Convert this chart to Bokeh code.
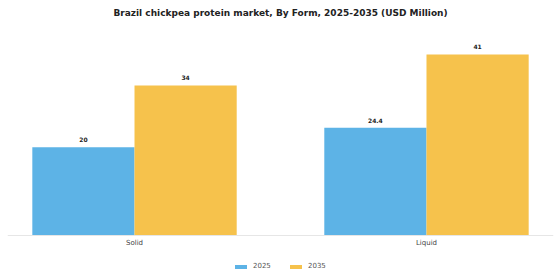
from bokeh.plotting import figure
from bokeh.models import ColumnDataSource, Range1d, Legend, LegendItem, FixedTicker
from bokeh.embed import file_html
from bokeh.resources import INLINE
from bokeh.core.properties import value

categories = ["Solid", "Liquid"]
years = ["2025", "2035"]
values_2025 = [20, 24.4]
values_2035 = [34, 41]
labels_2025 = ["20", "24.4"]
labels_2035 = ["34", "41"]

BLUE = "#5DB3E6"
YELLOW = "#F6C24C"
BAR_W = 0.35

centers = [i + 0.5 for i in range(len(categories))]
source = ColumnDataSource(dict(
    xc=centers,
    x1=[c - BAR_W / 2 for c in centers],
    x2=[c + BAR_W / 2 for c in centers],
    v2025=values_2025, v2035=values_2035,
    l2025=labels_2025, l2035=labels_2035))

p = figure(width=560, height=280,
           x_range=Range1d(0.065, len(categories) - 0.065),
           y_range=Range1d(-10.19, 48.24),
           output_backend="svg", toolbar_location=None, y_axis_location=None,
           min_border_left=7, min_border_right=7, min_border_top=22, min_border_bottom=0,
           title="Brazil chickpea protein market, By Form, 2025-2035 (USD Million)")

p.title.align = "center"
p.title.text_font = "DejaVu Sans"
p.title.text_font_size = "9px"
p.title.text_font_style = "bold"
p.title.text_color = "#222222"

r1 = p.vbar(x="x1", top="v2025", width=BAR_W, source=source,
            fill_color=BLUE, line_color=None)
r2 = p.vbar(x="x2", top="v2035", width=BAR_W, source=source,
            fill_color=YELLOW, line_color=None)

for xcol, col, lab in [("x1", "v2025", "l2025"), ("x2", "v2035", "l2035")]:
    p.text(x=xcol, y=col, text=lab, source=source,
           text_align="center", text_baseline="bottom", y_offset=-5,
           text_font=value("DejaVu Sans"), text_font_size="6px",
           text_font_style="bold", text_color="#222222")

p.xgrid.visible = False
p.ygrid.visible = False
p.outline_line_color = None
p.xaxis.fixed_location = 0
p.xaxis.ticker = FixedTicker(ticks=centers)
p.xaxis.major_label_overrides = {c: name for c, name in zip(centers, categories)}
p.xaxis.axis_line_color = "#e6e6e6"
p.xaxis.major_tick_line_color = None
p.xaxis.minor_tick_line_color = None
p.xaxis.major_tick_out = 0
p.xaxis.major_tick_in = 0
p.xaxis.major_label_text_font = "DejaVu Sans"
p.xaxis.major_label_text_font_size = "7px"
p.xaxis.major_label_text_color = "#444444"
p.xaxis.major_label_standoff = 3

legend = Legend(items=[LegendItem(label=years[0], renderers=[r1]),
                       LegendItem(label=years[1], renderers=[r2])],
                orientation="horizontal", location=(226, 10),
                glyph_width=15, glyph_height=5, label_standoff=5, spacing=15,
                label_text_font="DejaVu Sans", label_text_font_size="7px",
                label_text_color="#555555", padding=0, margin=0,
                border_line_color=None, background_fill_alpha=0)
p.add_layout(legend, "center")

open("out.html", "w").write(file_html(p, INLINE))
